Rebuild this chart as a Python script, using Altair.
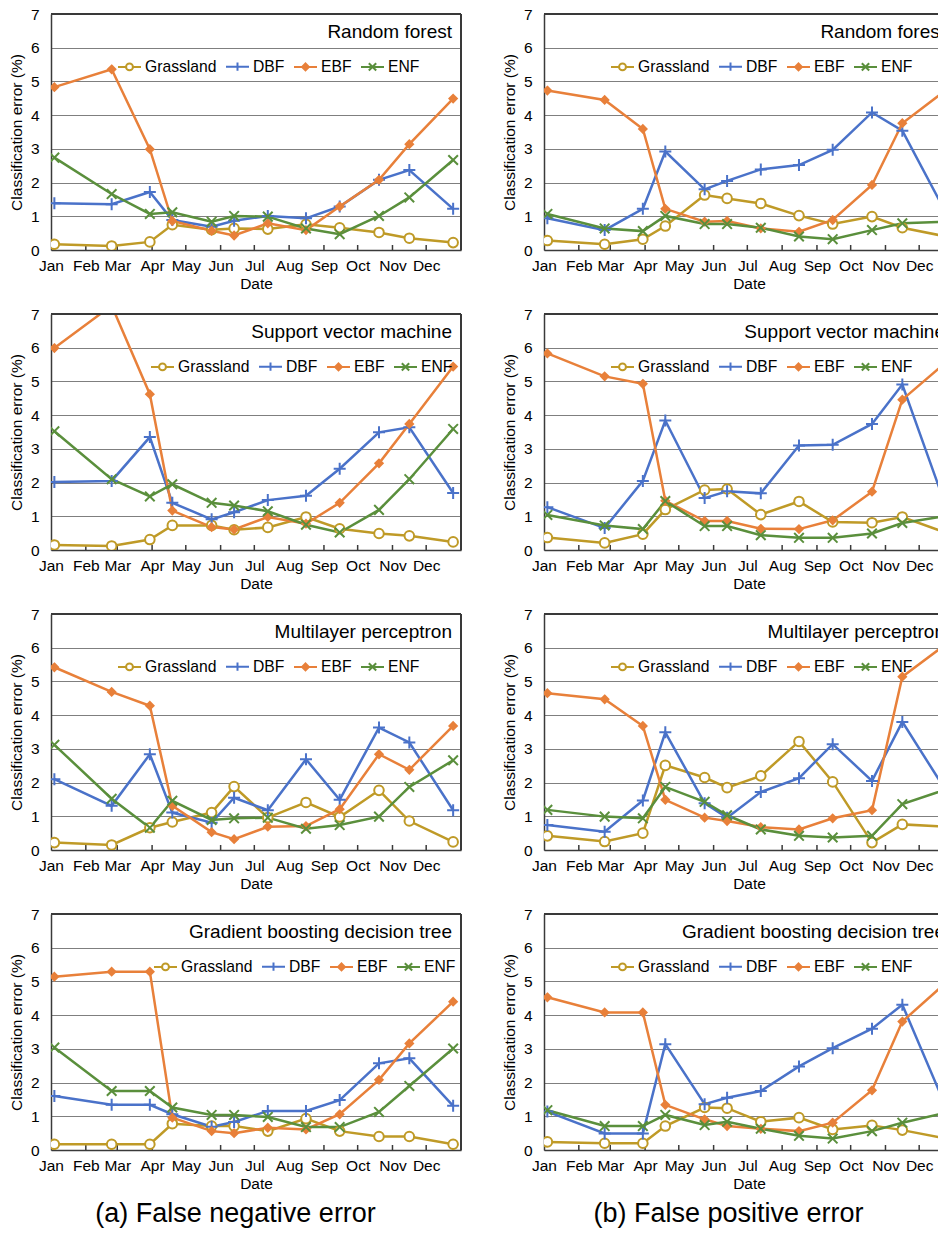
import altair as alt
import pandas as pd

FONT = "Liberation Sans"
DARK = "#3a3a3a"
GRID = "#7f7f7f"

SERIES = ["Grassland", "DBF", "EBF", "ENF"]
COLORS = ["#BF9A27", "#4A72C9", "#E8803A", "#5A8F3C"]
FILLS = ["white", "transparent", "#E8803A", "transparent"]
SHAPES = [
    "M-0.8,0A0.8,0.8 0 1,0 0.8,0A0.8,0.8 0 1,0 -0.8,0",
    "M-1,0H1M0,-1V1",
    "M0,-0.62L0.62,0L0,0.62L-0.62,0Z",
    "M-0.8,-0.8L0.8,0.8M-0.8,0.8L0.8,-0.8",
]
LEG_SHAPES = [
    "M-1,0H-0.3M0.3,0H1M-0.3,0A0.3,0.3 0 1,0 0.3,0A0.3,0.3 0 1,0 -0.3,0",
    "M-1,0H1M0,-0.36V0.36",
    "M-1,0H1M0,-0.3L0.3,0L0,0.3L-0.3,0ZM0,-0.15L0.15,0L0,0.15L-0.15,0Z",
    "M-1,0H1M-0.32,-0.32L0.32,0.32M-0.32,0.32L0.32,-0.32",
]

MONTHS = ["Jan", "Feb", "Mar", "Apr", "May", "Jun",
          "Jul", "Aug", "Sep", "Oct", "Nov", "Dec"]
DATES = ["2021-01-04", "2021-02-24", "2021-03-30", "2021-04-19",
         "2021-05-24", "2021-06-13", "2021-07-13", "2021-08-16",
         "2021-09-15", "2021-10-20", "2021-11-16", "2021-12-25"]

MODELS = ["Random forest", "Support vector machine",
          "Multilayer perceptron", "Gradient boosting decision tree"]
CAPTIONS = ["(a) False negative error", "(b) False positive error"]

RF_FN = {
    "Grassland": [0.17, 0.12, 0.24, 0.75, 0.60, 0.64, 0.62, 0.76, 0.66, 0.52, 0.35, 0.22],
    "DBF": [1.39, 1.36, 1.72, 0.89, 0.69, 0.87, 1.01, 0.94, 1.29, 2.08, 2.37, 1.22],
    "EBF": [4.83, 5.36, 2.99, 0.86, 0.57, 0.43, 0.79, 0.59, 1.29, 2.08, 3.14, 4.49],
    "ENF": [2.74, 1.66, 1.07, 1.12, 0.84, 1.01, 0.99, 0.64, 0.47, 1.01, 1.56, 2.67],
}
RF_FP = {
    "Grassland": [0.28, 0.17, 0.32, 0.71, 1.63, 1.53, 1.38, 1.02, 0.77, 0.99, 0.66, 0.40],
    "DBF": [0.94, 0.59, 1.22, 2.92, 1.80, 2.05, 2.39, 2.52, 2.97, 4.08, 3.54, 1.09],
    "EBF": [4.73, 4.45, 3.59, 1.22, 0.84, 0.86, 0.64, 0.54, 0.89, 1.93, 3.76, 4.75],
    "ENF": [1.07, 0.64, 0.56, 1.01, 0.77, 0.77, 0.66, 0.40, 0.32, 0.59, 0.79, 0.84],
}
SVM_FN = {
    "Grassland": [0.15, 0.12, 0.31, 0.73, 0.73, 0.60, 0.67, 0.98, 0.63, 0.49, 0.42, 0.24],
    "DBF": [2.02, 2.05, 3.35, 1.40, 0.91, 1.12, 1.48, 1.61, 2.41, 3.49, 3.64, 1.69],
    "EBF": [5.99, 7.25, 4.62, 1.17, 0.68, 0.61, 0.98, 0.78, 1.40, 2.57, 3.74, 5.44],
    "ENF": [3.52, 2.10, 1.59, 1.95, 1.40, 1.32, 1.15, 0.75, 0.52, 1.19, 2.10, 3.59],
}
SVM_FP = {
    "Grassland": [0.37, 0.21, 0.47, 1.20, 1.78, 1.81, 1.05, 1.44, 0.83, 0.81, 0.98, 0.51],
    "DBF": [1.27, 0.65, 2.05, 3.84, 1.54, 1.74, 1.68, 3.10, 3.12, 3.74, 4.91, 1.27],
    "EBF": [5.83, 5.15, 4.93, 1.46, 0.86, 0.86, 0.63, 0.62, 0.88, 1.73, 4.46, 5.57],
    "ENF": [1.04, 0.73, 0.62, 1.45, 0.71, 0.71, 0.44, 0.36, 0.36, 0.49, 0.80, 1.01],
}
MLP_FN = {
    "Grassland": [0.22, 0.15, 0.66, 0.83, 1.11, 1.88, 0.96, 1.41, 0.98, 1.77, 0.86, 0.24],
    "DBF": [2.10, 1.31, 2.84, 1.11, 0.81, 1.55, 1.18, 2.69, 1.49, 3.63, 3.19, 1.18],
    "EBF": [5.42, 4.69, 4.28, 1.31, 0.53, 0.32, 0.69, 0.71, 1.21, 2.84, 2.38, 3.68],
    "ENF": [3.12, 1.52, 0.66, 1.46, 0.89, 0.94, 0.96, 0.63, 0.74, 0.99, 1.87, 2.66],
}
MLP_FP = {
    "Grassland": [0.42, 0.25, 0.50, 2.51, 2.15, 1.85, 2.20, 3.22, 2.02, 0.22, 0.76, 0.69],
    "DBF": [0.74, 0.54, 1.47, 3.49, 1.39, 0.96, 1.72, 2.13, 3.14, 2.05, 3.80, 1.75],
    "EBF": [4.65, 4.47, 3.68, 1.49, 0.96, 0.86, 0.68, 0.61, 0.94, 1.18, 5.14, 6.11],
    "ENF": [1.19, 0.99, 0.94, 1.87, 1.43, 1.03, 0.61, 0.42, 0.37, 0.42, 1.36, 1.80],
}
GBDT_FN = {
    "Grassland": [0.17, 0.17, 0.17, 0.78, 0.71, 0.71, 0.56, 0.93, 0.56, 0.40, 0.40, 0.17],
    "DBF": [1.60, 1.34, 1.34, 1.06, 0.69, 0.83, 1.16, 1.16, 1.48, 2.57, 2.72, 1.31],
    "EBF": [5.14, 5.29, 5.29, 0.96, 0.56, 0.50, 0.66, 0.61, 1.06, 2.08, 3.16, 4.40],
    "ENF": [3.04, 1.75, 1.75, 1.26, 1.04, 1.04, 0.98, 0.68, 0.68, 1.13, 1.90, 3.01],
}
GBDT_FP = {
    "Grassland": [0.24, 0.20, 0.20, 0.71, 1.26, 1.24, 0.84, 0.96, 0.61, 0.73, 0.59, 0.34],
    "DBF": [1.14, 0.49, 0.49, 3.14, 1.36, 1.55, 1.75, 2.48, 3.02, 3.60, 4.31, 1.26],
    "EBF": [4.53, 4.08, 4.08, 1.34, 0.91, 0.71, 0.63, 0.56, 0.81, 1.77, 3.81, 4.97],
    "ENF": [1.18, 0.71, 0.71, 1.04, 0.74, 0.84, 0.63, 0.42, 0.34, 0.56, 0.81, 1.11],
}

PANELS = [(RF_FN, RF_FP), (SVM_FN, SVM_FP), (MLP_FN, MLP_FP), (GBDT_FN, GBDT_FP)]
LEGEND_X_LEFT = [66, 99, 66, 102]
LEGEND_X_RIGHT = [66, 66, 66, 66]

H = 236
W = 410
SVG_W = 930
SVG_H = 1223
PAD_L = 43
PAD_T = 6
YEAR0 = pd.Timestamp("2021-01-01")
DAYS = [(pd.Timestamp(d) - YEAR0).days for d in DATES]
MONTH_STARTS = [(pd.Timestamp(2021, m, 1) - YEAR0).days for m in range(1, 13)]
LABEL_EXPR = "[" + ",".join(f"'{m}'" for m in MONTHS) + "][indexof([" + \
    ",".join(str(v) for v in MONTH_STARTS) + "], datum.value)]"


def make_df(values):
    rows = []
    for s in SERIES:
        for d, v in zip(DAYS, values[s]):
            rows.append({"day": d, "value": v, "series": s})
    return pd.DataFrame(rows)


def panel(values, model, legend_x, caption=None):
    df = make_df(values)
    xscale = alt.Scale(domain=[0, 365], nice=False, zero=False)
    yscale = alt.Scale(domain=[0, 7], nice=False)
    x = alt.X("day:Q", scale=xscale, axis=alt.Axis(
        values=MONTH_STARTS, labelExpr=LABEL_EXPR, title="Date", grid=False,
        ticks=False, labelPadding=8, titlePadding=3, labelFlush=False,
        labelOverlap=False, labelBound=False))
    y = alt.Y("value:Q", scale=yscale, axis=alt.Axis(
        values=list(range(8)), title="Classification error (%)", grid=True,
        ticks=False, labelPadding=12, titlePadding=6, labelFlush=False))

    base = alt.Chart(df)
    lines = base.mark_line(strokeWidth=2.5, clip=True).encode(
        x=x, y=y,
        color=alt.Color("series:N", scale=alt.Scale(domain=SERIES, range=COLORS), legend=None),
        order=alt.Order("day:Q"),
    )
    points = base.mark_point(filled=False, strokeWidth=2, size=144, opacity=1, clip=True).encode(
        x=x, y=y,
        color=alt.Color("series:N", scale=alt.Scale(domain=SERIES, range=COLORS), legend=None),
        fill=alt.Fill("series:N", scale=alt.Scale(domain=SERIES, range=FILLS), legend=None),
        shape=alt.Shape("series:N", scale=alt.Scale(domain=SERIES, range=SHAPES), legend=None),
    )
    leg = alt.Legend(orient="none", legendX=legend_x, legendY=40, direction="horizontal",
                     title=None, labelFontSize=15.7, labelFont=FONT, labelColor="black",
                     symbolSize=529, symbolStrokeWidth=2, labelOffset=3, columnPadding=5,
                     padding=0, offset=0)
    legend_layer = base.transform_filter("false").mark_point(
        filled=False, strokeWidth=2, opacity=1).encode(
        x=x, y=y,
        stroke=alt.Stroke("series:N", scale=alt.Scale(domain=SERIES, range=COLORS), legend=leg),
        shape=alt.Shape("series:N", scale=alt.Scale(domain=SERIES, range=LEG_SHAPES), legend=leg),
    )
    ticks_df = pd.DataFrame({"day": MONTH_STARTS[1:]})
    ticks = alt.Chart(ticks_df).mark_rule(color=DARK, strokeWidth=1.5).encode(
        x=x, y=alt.value(H), y2=alt.value(H - 5))
    top = alt.Chart(ticks_df).mark_rule(color=DARK, strokeWidth=1.5).encode(
        x=alt.value(0), x2=alt.value(W), y=alt.value(0))
    right = alt.Chart(ticks_df).mark_rule(color=DARK, strokeWidth=1.5).encode(
        x=alt.value(W), y=alt.value(0), y2=alt.value(H))
    label = alt.Chart(pd.DataFrame({"t": [model]})).mark_text(
        align="right", baseline="middle", fontSize=19, font=FONT, color="black").encode(
        x=alt.value(W - 9), y=alt.value(18), text="t:N")
    ch = alt.layer(ticks, lines, points, legend_layer, top, right, label).resolve_scale(
        shape="independent", stroke="independent")
    props = dict(width=W, height=H)
    if caption is not None:
        props["title"] = alt.TitleParams(
            caption, orient="bottom", fontSize=27, font=FONT, fontWeight="normal",
            color="black", offset=9, frame="bounds", anchor="middle")
    return ch.properties(**props)


cells = []
for i, (fn, fp) in enumerate(PANELS):
    cap_l = CAPTIONS[0] if i == 3 else None
    cap_r = CAPTIONS[1] if i == 3 else None
    cells.append(panel(fn, MODELS[i], LEGEND_X_LEFT[i], cap_l))
    cells.append(panel(fp, MODELS[i], LEGEND_X_RIGHT[i], cap_r))

chart = alt.concat(*cells, columns=2, spacing={"row": 64, "column": 83},
                   bounds="flush").properties(
    autosize=alt.AutoSizeParams(type="none"),
    padding={"left": PAD_L, "top": PAD_T, "right": SVG_W - PAD_L, "bottom": SVG_H - PAD_T},
).configure_view(stroke="transparent").configure_axis(
    labelFont=FONT, titleFont=FONT, labelFontSize=15.5, titleFontSize=15.5,
    labelColor="black", titleColor="black", titleFontWeight="normal",
    domainColor=DARK, domainWidth=1.5, gridColor=GRID, gridWidth=1,
).configure_axisX(labelOverlap=False)

chart.save("out.html", embed_options={"renderer": "svg", "actions": False})
